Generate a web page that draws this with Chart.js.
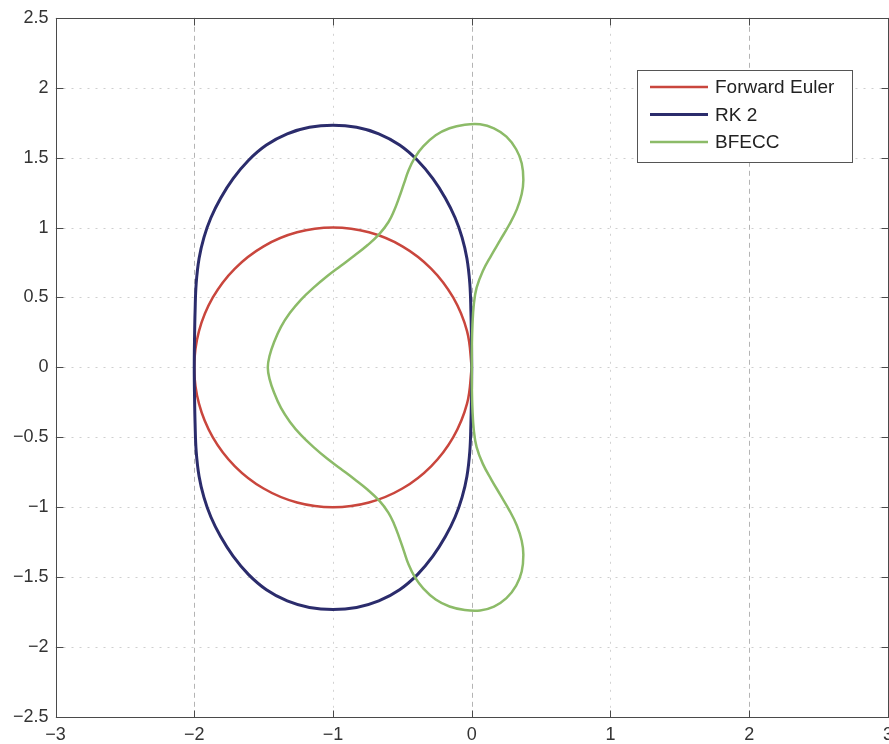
<!DOCTYPE html>
<html>
<head>
<meta charset="utf-8">
<script src="https://cdn.jsdelivr.net/npm/chart.js@4.4.1/dist/chart.umd.min.js"></script>
<style>
  html, body { margin: 0; padding: 0; overflow: hidden; background: #fff; }
  canvas { display: block; }
</style>
</head>
<body>
<canvas id="c" width="900" height="744"></canvas>
<script>
// Closed trajectories of a point rotated once around the unit circle, per integrator.
const seriesNames = ['Forward Euler', 'RK 2', 'BFECC'];

const eulerCurve = [
  [0, 0], [-0.034, 0.259], [-0.134, 0.5], [-0.293, 0.707], [-0.5, 0.866], [-0.741, 0.966],
  [-1, 1], [-1.259, 0.966], [-1.5, 0.866], [-1.707, 0.707], [-1.866, 0.5], [-1.966, 0.259],
  [-2, 0], [-1.966, -0.259], [-1.866, -0.5], [-1.707, -0.707], [-1.5, -0.866], [-1.259, -0.966],
  [-1, -1], [-0.741, -0.966], [-0.5, -0.866], [-0.293, -0.707], [-0.134, -0.5], [-0.034, -0.259],
  [0, 0]
];

const rk2Curve = [
  [0, 0], [-0.002, 0.2], [-0.006, 0.4], [-0.014, 0.6], [-0.035, 0.78], [-0.07, 0.93],
  [-0.12, 1.07], [-0.19, 1.21], [-0.28, 1.35], [-0.39, 1.48], [-0.52, 1.59], [-0.67, 1.67],
  [-0.83, 1.717], [-1, 1.732], [-1.17, 1.717], [-1.33, 1.67], [-1.48, 1.59], [-1.61, 1.48],
  [-1.72, 1.35], [-1.81, 1.21], [-1.88, 1.07], [-1.93, 0.93], [-1.965, 0.78], [-1.986, 0.6],
  [-1.994, 0.4], [-1.998, 0.2], [-2, 0],
  [-1.998, -0.2], [-1.994, -0.4], [-1.986, -0.6], [-1.965, -0.78], [-1.93, -0.93], [-1.88, -1.07],
  [-1.81, -1.21], [-1.72, -1.35], [-1.61, -1.48], [-1.48, -1.59], [-1.33, -1.67], [-1.17, -1.717],
  [-1, -1.732], [-0.83, -1.717], [-0.67, -1.67], [-0.52, -1.59], [-0.39, -1.48], [-0.28, -1.35],
  [-0.19, -1.21], [-0.12, -1.07], [-0.07, -0.93], [-0.035, -0.78], [-0.014, -0.6], [-0.006, -0.4],
  [-0.002, -0.2], [0, 0]
];

const bfeccCurve = [
  [0, 0], [0.001, 0.15], [0.005, 0.3], [0.015, 0.45], [0.035, 0.57], [0.08, 0.69],
  [0.14, 0.8], [0.205, 0.91], [0.27, 1.02], [0.325, 1.13], [0.36, 1.24], [0.372, 1.34],
  [0.36, 1.46], [0.32, 1.56], [0.25, 1.65], [0.16, 1.71], [0.06, 1.738], [-0.05, 1.735],
  [-0.16, 1.71], [-0.26, 1.66], [-0.35, 1.58], [-0.41, 1.5], [-0.455, 1.41], [-0.49, 1.31],
  [-0.525, 1.21], [-0.56, 1.12], [-0.6, 1.04], [-0.665, 0.955], [-0.75, 0.875], [-0.845, 0.8],
  [-0.945, 0.725], [-1.045, 0.65], [-1.14, 0.57], [-1.23, 0.485], [-1.31, 0.39], [-1.375, 0.29],
  [-1.425, 0.18], [-1.458, 0.08], [-1.47, 0],
  [-1.458, -0.08], [-1.425, -0.18], [-1.375, -0.29], [-1.31, -0.39], [-1.23, -0.485], [-1.14, -0.57],
  [-1.045, -0.65], [-0.945, -0.725], [-0.845, -0.8], [-0.75, -0.875], [-0.665, -0.955], [-0.6, -1.04],
  [-0.56, -1.12], [-0.525, -1.21], [-0.49, -1.31], [-0.455, -1.41], [-0.41, -1.5], [-0.35, -1.58],
  [-0.26, -1.66], [-0.16, -1.71], [-0.05, -1.735], [0.06, -1.738], [0.16, -1.71], [0.25, -1.65],
  [0.32, -1.56], [0.36, -1.46], [0.372, -1.34], [0.36, -1.24], [0.325, -1.13], [0.27, -1.02],
  [0.205, -0.91], [0.14, -0.8], [0.08, -0.69], [0.035, -0.57], [0.015, -0.45], [0.005, -0.3],
  [0.001, -0.15], [0, 0]
];

const xTickValues = [-3, -2, -1, 0, 1, 2, 3];
const xTickLabels = ['\u22123', '\u22122', '\u22121', '0', '1', '2', '3'];
const yTickValues = [-2.5, -2, -1.5, -1, -0.5, 0, 0.5, 1, 1.5, 2, 2.5];
const yTickLabels = ['\u22122.5', '\u22122', '\u22121.5', '\u22121', '\u22120.5', '0', '0.5', '1', '1.5', '2', '2.5'];

const toPoints = pairs => pairs.map(([x, y]) => ({ x, y }));

const FONT = "'Liberation Sans', Arial, Helvetica, sans-serif";
Chart.defaults.font.family = FONT;
Chart.defaults.font.size = 18;
Chart.defaults.color = '#333';

// Grid, boxed axes with inward ticks, and an inset legend.
const axesPlugin = {
  id: 'boxedAxes',
  beforeDatasetsDraw(chart) {
    const { ctx, chartArea: a, scales: { x, y } } = chart;
    ctx.save();
    ctx.lineWidth = 1;
    yTickValues.forEach(v => {
      const py = Math.round(y.getPixelForValue(v)) + 0.5;
      ctx.strokeStyle = '#cfcfcf';
      ctx.setLineDash([2, 6]);
      ctx.beginPath(); ctx.moveTo(a.left, py); ctx.lineTo(a.right, py); ctx.stroke();
    });
    xTickValues.forEach(v => {
      const px = Math.round(x.getPixelForValue(v)) + 0.5;
      if (v % 2 === 0) { ctx.strokeStyle = '#b4b4b4'; ctx.setLineDash([5, 4]); }
      else { ctx.strokeStyle = '#d2d2d2'; ctx.setLineDash([2, 6]); }
      ctx.beginPath(); ctx.moveTo(px, a.top); ctx.lineTo(px, a.bottom); ctx.stroke();
    });
    ctx.restore();
  },
  afterDatasetsDraw(chart) {
    const { ctx, chartArea: a, scales: { x, y } } = chart;
    ctx.save();
    ctx.setLineDash([]);
    ctx.strokeStyle = '#4a4a4a';
    ctx.lineWidth = 1;
    const L = Math.round(a.left) + 0.5, R = Math.round(a.right) + 0.5;
    const T = Math.round(a.top) + 0.5, B = Math.round(a.bottom) + 0.5;
    ctx.strokeRect(L, T, R - L, B - T);
    const tl = 7;
    ctx.beginPath();
    xTickValues.forEach(v => {
      const px = Math.round(x.getPixelForValue(v)) + 0.5;
      ctx.moveTo(px, B); ctx.lineTo(px, B - tl);
      ctx.moveTo(px, T); ctx.lineTo(px, T + tl);
    });
    yTickValues.forEach(v => {
      const py = Math.round(y.getPixelForValue(v)) + 0.5;
      ctx.moveTo(L, py); ctx.lineTo(L + tl, py);
      ctx.moveTo(R, py); ctx.lineTo(R - tl, py);
    });
    ctx.stroke();

    // legend
    const bx = 637.5, by = 70.5, bw = 215, bh = 92;
    ctx.fillStyle = '#fff';
    ctx.fillRect(bx, by, bw, bh);
    ctx.strokeStyle = '#555';
    ctx.strokeRect(bx, by, bw, bh);
    ctx.font = '19px ' + FONT;
    ctx.textBaseline = 'middle';
    ctx.textAlign = 'left';
    chart.data.datasets.forEach((ds, i) => {
      const ly = 87 + i * 27.5;
      ctx.strokeStyle = ds.borderColor;
      ctx.lineWidth = ds.borderWidth;
      ctx.beginPath(); ctx.moveTo(650, ly); ctx.lineTo(708, ly); ctx.stroke();
      ctx.fillStyle = '#222';
      ctx.fillText(ds.label, 715, ly + 1);
    });
    ctx.restore();
  }
};

const lineStyle = { showLine: true, pointRadius: 0, pointHoverRadius: 0, fill: false, tension: 0.4 };

new Chart(document.getElementById('c'), {
  type: 'scatter',
  data: {
    datasets: [
      { ...lineStyle, label: seriesNames[0], data: toPoints(eulerCurve), borderColor: '#c9463d', borderWidth: 2.5, order: 3 },
      { ...lineStyle, label: seriesNames[1], data: toPoints(rk2Curve), borderColor: '#2b2c6c', borderWidth: 3, order: 2 },
      { ...lineStyle, label: seriesNames[2], data: toPoints(bfeccCurve), borderColor: '#8cbb68', borderWidth: 2.5, order: 1 }
    ]
  },
  options: {
    responsive: false,
    animation: false,
    events: [],
    layout: { padding: { top: 17, right: 9, left: 0, bottom: 0 } },
    plugins: { legend: { display: false }, tooltip: { enabled: false } },
    scales: {
      x: {
        type: 'linear', min: -3, max: 3,
        grid: { display: false, drawTicks: false, tickLength: 0 },
        border: { display: false },
        afterBuildTicks: s => { s.ticks = xTickValues.map(v => ({ value: v })); },
        afterFit: s => { s.height = 27; },
        ticks: { padding: 7, maxRotation: 0, autoSkip: false, color: '#333',
                 callback: (v, i) => xTickLabels[i] }
      },
      y: {
        type: 'linear', min: -2.5, max: 2.5,
        grid: { display: false, drawTicks: false, tickLength: 0 },
        border: { display: false },
        afterBuildTicks: s => { s.ticks = yTickValues.map(v => ({ value: v })); },
        afterFit: s => { s.width = 55.5; },
        ticks: { padding: 7, autoSkip: false, color: '#333',
                 callback: (v, i) => yTickLabels[i] }
      }
    }
  },
  plugins: [axesPlugin]
});
</script>
</body>
</html>
